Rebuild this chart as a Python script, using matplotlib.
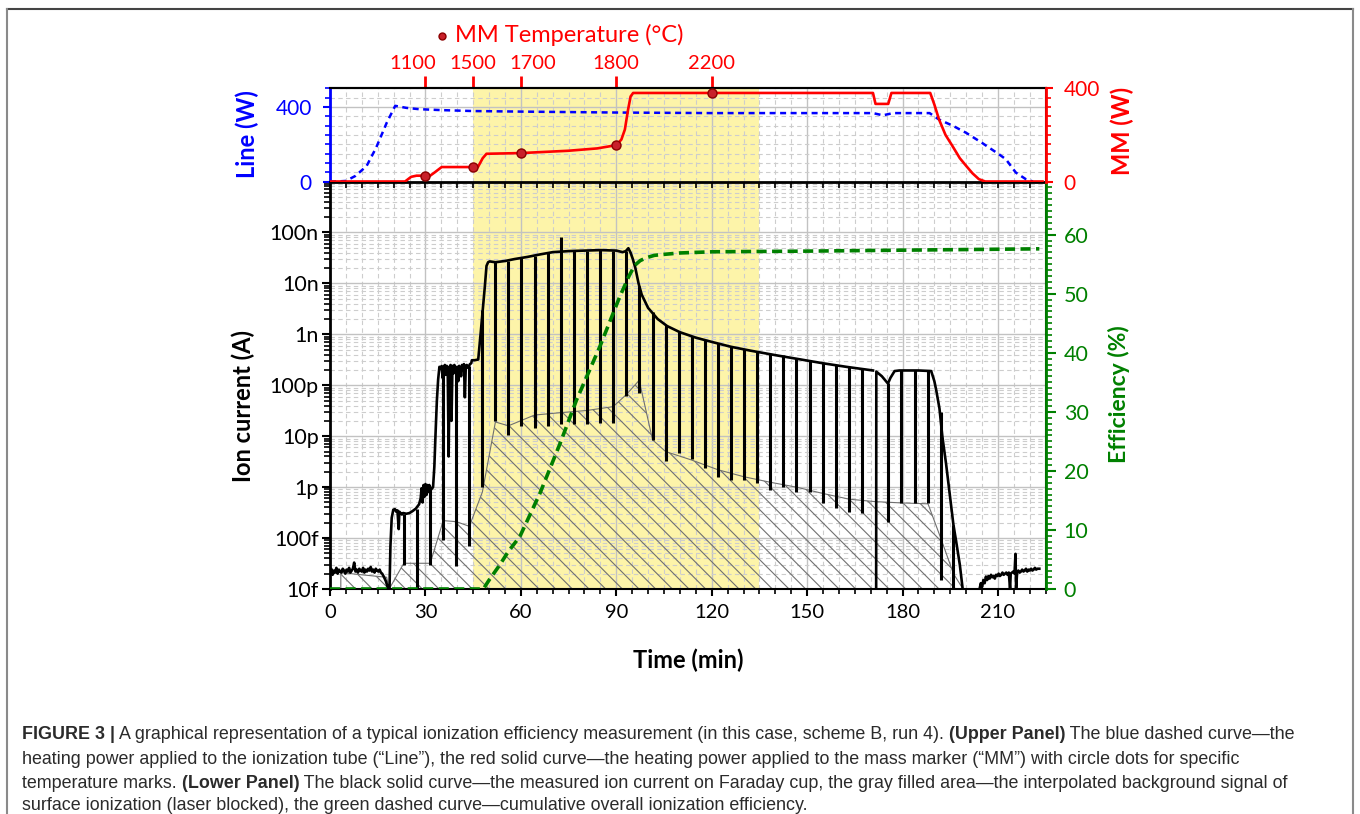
import numpy as np
import matplotlib
matplotlib.use("Agg")
import matplotlib.pyplot as plt
from matplotlib.lines import Line2D
from matplotlib.text import Annotation
from matplotlib.transforms import ScaledTranslation
from matplotlib.ticker import (FixedLocator, MultipleLocator, LogLocator,
                               NullFormatter, NullLocator)

plt.rcParams["font.family"] = ["Lato", "DejaVu Sans"]
plt.rcParams["hatch.linewidth"] = 0.8
plt.rcParams["hatch.color"] = "#707070"

# --- upper panel: heating powers ---
line_t = [0, 2, 5, 8, 11.5, 14.5, 17.8, 20.5, 24, 28, 35, 45, 60, 90, 120, 150,
          170.7, 173.8, 177, 188.5, 191.5, 195.7, 200, 205, 210.4, 212.5, 215.6,
          218.8, 221]
line_w = [0, 0, 3, 30, 83, 181, 314, 406, 395, 388, 383, 378, 375, 370, 367, 367,
          367, 355, 367, 367, 332, 300, 261, 207, 145, 119, 48, 12, 0]

mm_t = [0, 23.6, 25.5, 27.2, 31.5, 33, 35.1, 46.5, 48, 49.2, 60, 75, 84, 90, 91.6,
        92.7, 93.7, 94.5, 95.3, 120, 170.7, 171.5, 175.5, 176.5, 188.7, 190, 191.5,
        193.5, 195.7, 198, 200, 202, 204, 206, 224]
mm_w = [0, 0, 20, 25, 25, 40, 62, 62, 100, 119, 122, 132, 142, 156, 180, 223, 308,
        365, 380, 380, 380, 333, 333, 380, 380, 330, 265, 200, 152, 100, 67, 35, 10,
        0, 0]

temp_t = [30, 45, 60, 90, 120]
temp_c = [1100, 1500, 1700, 1800, 2200]
temp_mm = [25, 62, 122, 156, 380]

# --- lower panel: ion current (A) ---
ion_t = [0.0, 0.4, 0.8, 1.2, 1.6, 2.0, 2.4, 2.8, 3.2, 3.6, 4.0, 4.4, 4.8, 5.2, 5.6,
         6.0, 6.4, 6.8, 7.2, 7.6, 8.0, 8.4, 8.8, 9.2, 9.6, 10.0, 10.4, 10.8, 11.2,
         11.6, 12.0, 12.4, 12.8, 13.2, 13.6, 14.0, 14.4, 14.8, 15.2, 15.6, 16.0,
         16.4, 16.8, 17.2, 17.6, 18.0, 18.3,
         18.7, 19.0, 19.4, 19.9, 20.4, 20.8, 21.2, 21.6, 21.8, 22.2, 22.6, 23.0,
         24.0, 25.0, 26.0, 27.0, 28.0, 28.5, 28.8, 29.1, 29.4, 29.7, 30.0, 30.3,
         30.6, 30.9, 31.2, 31.8, 32.4, 32.8, 33.2, 33.6, 34.0, 34.4, 34.8, 35.1,
         35.4, 35.8, 36.1, 36.4, 36.7, 37.0, 37.3, 37.6, 37.9, 38.2, 38.5, 38.8,
         39.1, 39.4, 40.0, 40.3, 40.6, 40.9, 41.2, 41.5, 41.8, 42.1, 42.4, 42.7,
         43.0, 43.4, 44.0, 44.4, 44.6, 45.5, 46.6, 47.5, 48.7, 49.2, 49.7, 50.2,
         52.0, 55.0, 58.0, 62.0, 66.0, 70.0, 75.0, 80.0, 85.0, 90.0, 92.0, 93.0,
         93.8, 94.5, 95.2, 96.0, 97.0, 98.0, 100.0, 103.0, 106.0, 110.0, 115.0,
         120.0, 126.0, 132.0, 140.0, 148.0, 155.0, 162.3, 170.7, 170.71,
         171.7, 171.75, 173.5, 175.4, 176.2, 177.5, 179.0, 185.0, 189.0, 190.0,
         190.6, 191.6, 192.5, 193.7, 195.0, 196.0, 196.8, 198.0, 198.9, 199.0,
         204.2, 204.6, 205.0, 205.4, 205.8, 206.2, 206.6, 207.0, 207.4, 207.8,
         208.2, 208.6, 209.0, 209.4, 209.8, 210.2, 210.6, 211.0, 211.4, 211.8,
         212.2, 212.6, 213.0, 213.4, 213.8, 214.0, 214.4, 214.8, 215.2, 215.5,
         215.7, 216.0, 216.4, 216.8, 217.2, 217.6, 218.0, 218.4, 218.8, 219.2,
         219.6, 220.0, 220.4, 220.8, 221.2, 221.6, 222.0, 222.4, 223.0]
ion_a = [2.2e-14, 2.5e-14, 1.9e-14, 2.3e-14, 2.1e-14, 2.6e-14, 2.0e-14, 2.4e-14,
         2.2e-14, 2.1e-14, 2.5e-14, 2.3e-14, 2.0e-14, 2.4e-14, 2.2e-14, 2.6e-14,
         2.1e-14, 2.3e-14, 2.5e-14, 3.3e-14, 2.2e-14, 2.4e-14, 2.1e-14, 2.5e-14,
         2.3e-14, 2.2e-14, 2.6e-14, 2.1e-14, 2.4e-14, 2.2e-14, 2.5e-14, 2.3e-14,
         2.7e-14, 2.2e-14, 2.4e-14, 2.1e-14, 2.5e-14, 2.3e-14, 2.2e-14, 2.4e-14,
         2.1e-14, 2.0e-14, 1.8e-14, 1.6e-14, 1.4e-14, 1.15e-14, 1.0e-14,
         1.0e-14, 7e-14, 2.5e-13, 3.6e-13, 3.7e-13, 3.3e-13, 3.5e-13, 1.5e-13,
         3.3e-13, 3.1e-13, 2.9e-13, 3.1e-13, 3.0e-13, 3.1e-13, 3.4e-13, 3.8e-13,
         4.6e-13, 6.0e-13, 9.5e-13, 5.0e-13, 1.1e-12, 6.5e-13, 1.15e-12, 7.0e-13,
         1.1e-12, 8.0e-13, 1.1e-12, 9.0e-13, 1.0e-12, 2.5e-12, 1.2e-11, 5.0e-11,
         1.3e-10, 2.3e-10, 2.1e-10, 2.4e-10, 1.4e-10, 2.3e-10, 2.5e-10, 1.6e-10,
         2.4e-10, 2.2e-10, 4.0e-12, 2.3e-10, 2.5e-10, 2.0e-11, 2.4e-10, 1.7e-10,
         2.5e-10, 2.2e-10, 2.3e-10, 1.2e-10, 2.4e-10, 2.2e-10, 1.5e-10, 2.5e-10,
         2.3e-10, 2.6e-10, 5.8e-11, 2.4e-10, 2.5e-10, 2.2e-10, 2.6e-10, 2.7e-10,
         3.1e-10, 3.1e-10, 3.2e-10, 1.3e-09, 9.0e-09, 2.2e-08, 2.6e-08, 2.7e-08,
         2.6e-08, 2.75e-08, 3.0e-08, 3.3e-08, 3.7e-08, 4.1e-08, 4.3e-08, 4.4e-08,
         4.5e-08, 4.4e-08, 4.1e-08, 4.3e-08, 4.9e-08, 4.0e-08, 3.0e-08, 2.0e-08,
         1.0e-08, 6.0e-09, 3.3e-09, 2.0e-09, 1.45e-09, 1.1e-09, 8.6e-10, 7.1e-10,
         5.7e-10, 4.8e-10, 3.9e-10, 3.2e-10, 2.7e-10, 2.3e-10, 1.95e-10, np.nan,
         1.0e-14, 1.85e-10, 1.5e-10, 1.08e-10, 1.4e-10, 1.9e-10, 1.95e-10, 1.95e-10,
         1.9e-10, 1.2e-10, 7.9e-11, 3.5e-11, 1.0e-11, 2.8e-12, 6.0e-13, 1.8e-13,
         9.0e-14, 3.0e-14, 1.0e-14, np.nan,
         1.0e-14, 1.3e-14, 1.1e-14, 1.5e-14, 1.3e-14, 1.75e-14, 1.5e-14, 1.8e-14,
         1.6e-14, 1.9e-14, 1.7e-14, 1.8e-14, 1.6e-14, 1.9e-14, 1.8e-14, 2.0e-14,
         1.8e-14, 1.9e-14, 2.1e-14, 1.9e-14, 2.0e-14, 2.1e-14, 1.9e-14, 2.1e-14,
         1.0e-14, 2.0e-14, 2.1e-14, 2.2e-14, 2.0e-14, 4.9e-14, 1.0e-14, 2.1e-14,
         2.3e-14, 2.1e-14, 2.2e-14, 2.4e-14, 2.2e-14, 2.3e-14, 2.5e-14, 2.2e-14,
         2.4e-14, 2.3e-14, 2.5e-14, 2.3e-14, 2.4e-14, 2.6e-14, 2.4e-14, 2.5e-14,
         2.5e-14]

# periodic laser-blocked dips
spike_t = [23.2, 27.4, 31.5, 35.6, 39.7, 43.8, 47.9, 52.0, 56.1, 60.2, 64.3, 68.5,
           72.6, 76.7, 80.8, 84.9, 89.0, 93.1, 97.2, 101.4, 105.5, 109.6, 113.7,
           117.8, 121.9, 126.0, 130.1, 134.2, 138.3, 142.4, 146.6, 150.8, 155.0,
           159.0, 163.2, 167.1, 175.4, 179.6, 183.8, 188.0, 192.0, 196.0]
spike_lo = [3e-14, 1e-14, 3e-14, 9e-14, 2.8e-14, 7e-14, 1e-12, 1.95e-11, 1.07e-11,
            1.57e-11, 1.45e-11, 1.57e-11, 1.7e-11, 1.7e-11, 1.7e-11, 1.83e-11,
            1.83e-11, 6.1e-11, 7.1e-11, 8.6e-12, 3.2e-12, 4.7e-12, 3.5e-12, 2.4e-12,
            1.6e-12, 1.4e-12, 1.4e-12, 1.2e-12, 8.9e-13, 1.0e-12, 8e-13, 8.2e-13,
            4.9e-13, 3.9e-13, 3.3e-13, 3.1e-13, 2.1e-13, 4.9e-13, 4.9e-13, 4.9e-13,
            1.5e-14, 1e-14]
spike_hi = [3.0e-13, 3.8e-13, 1.0e-12, 2.3e-10, 2.2e-10, 2.4e-10, 3e-9, 2.6e-8,
            2.8e-8, 3.1e-8, 3.4e-8, 3.9e-8, 8.3e-8, 4.3e-8, 4.4e-8, 4.5e-8, 4.4e-8,
            4.3e-8, 9e-9, 2.7e-9, 1.55e-9, 1.1e-9, 9.2e-10, 7.8e-10, 6.8e-10,
            5.8e-10, 5.1e-10, 4.6e-10, 4.2e-10, 3.9e-10, 3.4e-10, 3.1e-10, 2.7e-10,
            2.5e-10, 2.3e-10, 2.1e-10, 1.1e-10, 1.95e-10, 1.95e-10, 1.9e-10, 3e-11,
            1.8e-13]

# interpolated surface-ionization background
bg_t = [3.4, 10.0, 17.8, 18.6, 23.2, 31.5, 35.6, 39.7, 43.8, 47.9, 52.0, 56.1,
        64.3, 72.6, 80.8, 89.0, 93.1, 97.2, 101.4, 105.5, 113.7, 121.9, 130.1,
        138.3, 146.6, 155.0, 163.2, 171.2, 179.6, 188.0, 192.0, 196.0, 199.0]
bg_a = [2.1e-14, 1.9e-14, 1.7e-14, 1.0e-14, 3.2e-14, 3.2e-14, 2.2e-13, 2.1e-13,
        1.7e-13, 8e-13, 1.9e-11, 1.6e-11, 2.6e-11, 2.9e-11, 3.2e-11, 3.8e-11,
        6.5e-11, 1.25e-10, 8.5e-12, 5.0e-12, 3.4e-12, 2.2e-12, 1.6e-12, 1.25e-12,
        1.0e-12, 7.5e-13, 5.8e-13, 5.2e-13, 4.9e-13, 4.7e-13, 1.0e-13, 2.0e-14,
        1.0e-14]

# cumulative efficiency (%)
eff_t = [0, 48.2, 50, 53.4, 56, 59.7, 66, 72.3, 77.5, 84.8, 91.1, 94, 95.8, 97.5,
         99.5, 102, 105.8, 110, 120.4, 147.7, 185, 223]
eff_v = [0, 0, 1.5, 4.1, 6.3, 8.9, 16.2, 24.6, 32, 41, 49.5, 53, 54.8, 55.6, 56.1,
         56.5, 56.7, 56.9, 57.1, 57.2, 57.4, 57.6]

decades = [1e-14, 1e-13, 1e-12, 1e-11, 1e-10, 1e-9, 1e-8, 1e-7]
decade_labels = ["10f", "100f", "1p", "10p", "100p", "1n", "10n", "100n"]

BLUE, RED, GREEN = "#0000ff", "#ff0000", "#008000"
YELLOW = "#fdf4a9"
DOT = "#c8202a"
GRID_MAJ = "#c2c2c2"
GRID_MIN = "#cdcdcd"

fig = plt.figure(figsize=(13.6, 8.14), dpi=100)
L, W = 330 / 1360, 715.7 / 1360
ax = fig.add_axes([L, 1 - 589 / 814, W, (589 - 181.5) / 814])
axu = fig.add_axes([L, 1 - 181.5 / 814, W, (181.5 - 88.3) / 814])

# ---------- lower panel ----------
ax.axvspan(45, 135, color=YELLOW, lw=0, zorder=0)
ax.fill_between(bg_t, 1e-14, bg_a, facecolor="none", edgecolor="#707070",
                hatch="\\\\", lw=0.8, zorder=1)
ax.plot(ion_t, ion_a, color="black", lw=1.9, zorder=3)
ax.vlines(spike_t, spike_lo, spike_hi, color="black", lw=2.2, zorder=3)
ax.set_yscale("log")
ax.set_xlim(0, 225)
ax.set_ylim(1e-14, 1e-6)
ax.xaxis.set_major_locator(MultipleLocator(30))
ax.xaxis.set_minor_locator(MultipleLocator(5))
ax.yaxis.set_major_locator(FixedLocator(decades))
ax.set_yticklabels(decade_labels)
ax.yaxis.set_minor_locator(LogLocator(base=10, subs=np.arange(2, 10), numticks=50))
ax.yaxis.set_minor_formatter(NullFormatter())
ax.set_axisbelow(True)
ax.grid(which="major", color=GRID_MAJ, lw=1.0)
ax.grid(which="minor", color=GRID_MIN, lw=0.8, ls=(0, (4, 3)))
ax.tick_params(axis="x", which="major", direction="out", length=5, width=1.5,
               labelsize=14.5, pad=6)
ax.tick_params(axis="x", which="minor", direction="out", length=3.5, width=1.2)
ax.tick_params(axis="y", which="major", length=6, width=1.5, labelsize=15.5, pad=2)
ax.tick_params(axis="y", which="minor", length=4, width=1.2)
for s in ax.spines.values():
    s.set_linewidth(1.5)
ax.spines["left"].set_linewidth(2)

axe = ax.twinx()
axe.plot(eff_t, eff_v, color=GREEN, lw=2.6, ls=(0, (2.8, 1.5)), zorder=4)
axe.set_ylim(0, 69)
axe.yaxis.set_major_locator(MultipleLocator(10))
axe.yaxis.set_minor_locator(MultipleLocator(1))
axe.tick_params(axis="y", which="major", colors=GREEN, length=7, width=1.5,
                labelsize=15.5, pad=6)
axe.tick_params(axis="y", which="minor", colors=GREEN, length=4, width=1.2)
axe.spines["right"].set_color(GREEN)
axe.spines["right"].set_linewidth(2)
for s in ("left", "top", "bottom"):
    axe.spines[s].set_visible(False)

# ---------- upper panel ----------
axu.axvspan(45, 135, color=YELLOW, lw=0, zorder=0)
axu.plot(line_t, line_w, color=BLUE, lw=1.8, ls=(0, (2.4, 1.8)), zorder=3)
axu.set_xlim(0, 225)
axu.set_ylim(0, 500)
axu.xaxis.set_major_locator(MultipleLocator(30))
axu.xaxis.set_minor_locator(MultipleLocator(5))
axu.yaxis.set_major_locator(FixedLocator([0, 400]))
axu.yaxis.set_minor_locator(MultipleLocator(50))
axu.set_axisbelow(True)
axu.grid(which="major", color=GRID_MAJ, lw=1.0)
axu.grid(which="minor", color=GRID_MIN, lw=0.8, ls=(0, (4, 3)))
axu.tick_params(axis="x", which="both", bottom=True, labelbottom=False,
                direction="out", length=4, width=1.2)
axu.tick_params(axis="y", which="major", colors=BLUE, length=5, width=1.5,
                labelsize=15, pad=8)
axu.tick_params(axis="y", which="minor", colors=BLUE, length=3.5, width=1.2)
for s in axu.spines.values():
    s.set_linewidth(1.5)
axu.spines["left"].set_color(BLUE)
axu.spines["left"].set_linewidth(2)
axu.spines["bottom"].set_linewidth(2)

axm = axu.twinx()
axm.plot(mm_t, mm_w, color=RED, lw=1.9, zorder=3)
axm.plot(temp_t, temp_mm, ls="none", marker="o", ms=6.5, mfc=DOT, mec="#8b0000",
         mew=1, zorder=4)
axm.set_ylim(0, 400)
axm.yaxis.set_major_locator(FixedLocator([0, 400]))
axm.yaxis.set_minor_locator(MultipleLocator(40))
axm.tick_params(axis="y", which="major", colors=RED, length=5, width=1.5,
                labelsize=15, pad=8)
axm.tick_params(axis="y", which="minor", colors=RED, length=3.5, width=1.2)
axm.spines["right"].set_color(RED)
axm.spines["right"].set_linewidth(2)
for s in ("left", "top", "bottom"):
    axm.spines[s].set_visible(False)

sec = axu.secondary_xaxis("top")
sec.set_xticks(temp_t, labels=[str(c) for c in temp_c])
sec.xaxis.set_minor_locator(NullLocator())
sec.tick_params(axis="x", colors=RED, length=9, width=2, labelsize=14.5, pad=3)
sec.spines["top"].set_color("black")
sec.spines["top"].set_linewidth(1.5)
# nudge crowded temperature labels apart (pixels)
label_shift = {1100: -13, 1700: 12}
for lab in sec.get_xticklabels():
    dx = label_shift.get(int(lab.get_text()), 0)
    if dx:
        lab.set_transform(lab.get_transform()
                          + ScaledTranslation(dx / 100, 0, fig.dpi_scale_trans))

# ---------- labels ----------
def px(x, y):
    return x / 1360, 1 - y / 814

fig.text(*px(455, 35), "MM Temperature (°C)", color=RED, fontsize=17,
         ha="left", va="center")
fig.add_artist(Line2D([442 / 1360], [1 - 36 / 814], marker="o", ms=5, mfc=DOT,
                      mec="#8b0000", mew=1, ls="none", transform=fig.transFigure))
fig.text(*px(247, 134), "Line (W)", color=BLUE, fontsize=17, fontweight="bold",
         rotation=90, ha="center", va="center")
fig.text(*px(1122, 131), "MM (W)", color=RED, fontsize=17, fontweight="bold",
         rotation=90, ha="center", va="center")
fig.text(*px(243, 406), "Ion current (A)", color="black", fontsize=17,
         fontweight="bold", rotation=90, ha="center", va="center")
fig.text(*px(1119, 394), "Efficiency (%)", color=GREEN, fontsize=16.5,
         fontweight="bold", rotation=90, ha="center", va="center")
fig.text(*px(688, 660), "Time (min)", color="black", fontsize=17,
         fontweight="bold", ha="center", va="center")

# ---------- frame ----------
frame_kw = dict(transform=fig.transFigure, lw=1.5)
fig.add_artist(Line2D([7 / 1360, 1353 / 1360], [1 - 9 / 814] * 2, color="#444444",
                      **frame_kw))
fig.add_artist(Line2D([7 / 1360] * 2, [0, 1 - 9 / 814], color="#8a8a8a", **frame_kw))
fig.add_artist(Line2D([1353 / 1360] * 2, [0, 1 - 9 / 814], color="#8a8a8a",
                      **frame_kw))

# ---------- caption ----------
cap_kw = dict(fontsize=12.85, family=["Liberation Sans", "DejaVu Sans"],
              color="#2b2b2b")
caption = [
    [("FIGURE 3 |", True),
     (" A graphical representation of a typical ionization efficiency measurement "
      "(in this case, scheme B, run 4).", False),
     (" (Upper Panel)", True),
     (" The blue dashed curve\u2014the", False)],
    [("heating power applied to the ionization tube (\u201cLine\u201d), the red solid "
      "curve\u2014the heating power applied to the mass marker (\u201cMM\u201d) with "
      "circle dots for specific", False)],
    [("temperature marks.", False),
     (" (Lower Panel)", True),
     (" The black solid curve\u2014the measured ion current on Faraday cup, the gray "
      "filled area\u2014the interpolated background signal of", False)],
    [("surface ionization (laser blocked), the green dashed curve\u2014cumulative "
      "overall ionization efficiency.", False)],
]
for row, y_base in zip(caption, [739, 764, 788, 810]):
    txt, bold = row[0]
    prev = fig.text(*px(22, y_base), txt, va="baseline", ha="left",
                    fontweight="bold" if bold else "normal", **cap_kw)
    for txt, bold in row[1:]:
        prev = fig.add_artist(Annotation(txt, xy=(1, 0), xycoords=prev,
                                         va="bottom", ha="left",
                                         fontweight="bold" if bold else "normal",
                                         **cap_kw))

fig.savefig("out.png", dpi=100)
